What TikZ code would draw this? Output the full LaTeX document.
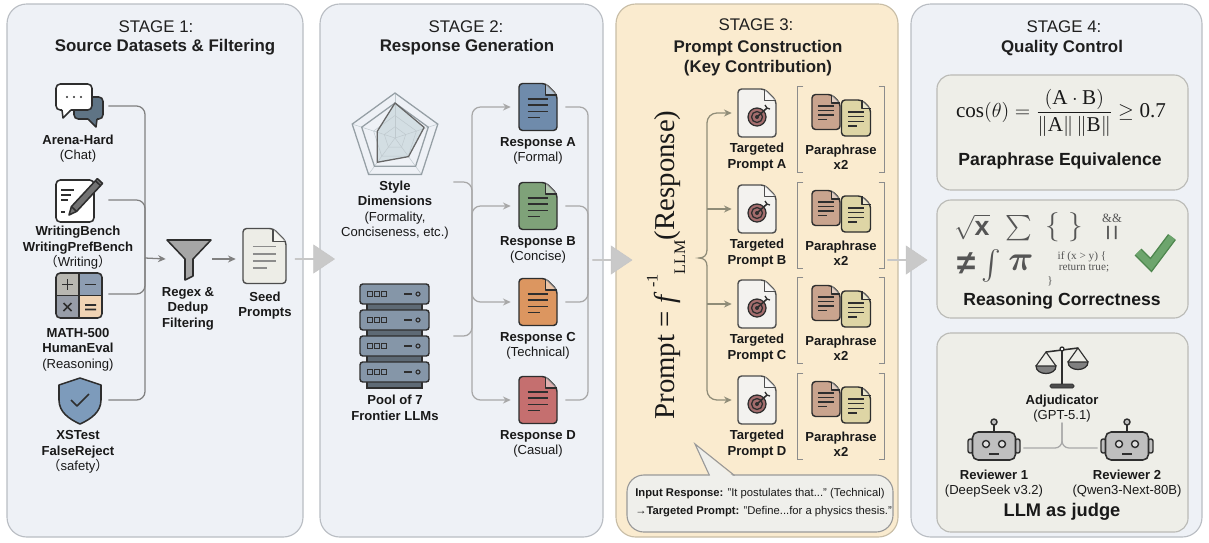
\documentclass[tikz,border=0pt]{standalone}
\usepackage{fontspec}
\setmainfont{Liberation Sans}
\newfontfamily\serifface{Liberation Serif}
\newfontfamily\cjkface{Noto Sans CJK SC}
\usepackage{amsmath}
\usepackage{amssymb}
\usetikzlibrary{arrows.meta,shapes.arrows}

\definecolor{panelfill}{HTML}{EEF1F6}
\definecolor{panelline}{HTML}{B9BDC3}
\definecolor{keyfill}{HTML}{FAEBCF}
\definecolor{keyline}{HTML}{C8BDA6}
\definecolor{qcfill}{HTML}{EEEEE8}
\definecolor{qcline}{HTML}{BABAB6}
\definecolor{iconline}{HTML}{2E2E2E}
\definecolor{conngray}{HTML}{808080}
\definecolor{connlight}{HTML}{A8A8A8}
\definecolor{connolive}{HTML}{8F8C78}
\definecolor{arrowgray}{HTML}{C9C9C9}
\definecolor{chatslate}{HTML}{5F7485}
\definecolor{shieldblue}{HTML}{7D9BBB}
\definecolor{respblue}{HTML}{6F8BAB}
\definecolor{respgreen}{HTML}{7FA279}
\definecolor{resporange}{HTML}{DC9660}
\definecolor{respred}{HTML}{C56F6F}
\definecolor{targetred}{HTML}{A46D6D}
\definecolor{tpfill}{HTML}{F3F2EF}
\definecolor{parabrown}{HTML}{C9A48E}
\definecolor{parakhaki}{HTML}{DED5A5}
\definecolor{serverblue}{HTML}{8596A8}
\definecolor{serverdark}{HTML}{5E6A75}
\definecolor{robotgray}{HTML}{BFBFBF}
\definecolor{symgray}{HTML}{555555}
\definecolor{checkgreen}{HTML}{6DA56D}
\definecolor{checkdark}{HTML}{4F874F}
\definecolor{radarfill}{HTML}{D3DEE3}
\definecolor{radarline}{HTML}{959FA5}
\definecolor{radargrid}{HTML}{BFC9CE}
\definecolor{seedfill}{HTML}{EDEDE7}
\definecolor{calloutfill}{HTML}{EFEFEB}

\newcommand\lblfont{\fontsize{9.3}{11}\selectfont}
\newcommand\ttlfont{\fontsize{12}{14.2}\selectfont}
\newcommand\qcfont{\fontsize{12.5}{15}\selectfont\bfseries}

\tikzset{
  panel/.style={draw=panelline, line width=0.8pt, fill=panelfill, rounded corners=14pt},
  keypanel/.style={panel, draw=keyline, fill=keyfill},
  qcbox/.style={draw=qcline, line width=0.8pt, fill=qcfill, rounded corners=10pt, minimum width=6.275cm, inner sep=0pt},
  bigarrow/.style={single arrow, fill=arrowgray, draw=black!22, line width=0.4pt, minimum height=0.98cm, minimum width=0.7cm, single arrow head extend=0.19cm, single arrow tip angle=68, inner sep=0pt},
  lbl/.style={font=\lblfont, align=center, inner sep=0pt, text=black!90},
  ttl/.style={font=\ttlfont, inner sep=0pt, text=black!88},
  icon/.style={inner sep=0pt, minimum width=1.45cm, minimum height=1.1cm},
  iconpen/.style={line width=1.1pt, draw=iconline, line join=round},
  conn1/.style={draw=conngray, line width=0.9pt, rounded corners=6pt},
  conn2/.style={draw=connlight, line width=0.9pt, rounded corners=6pt},
  conn3/.style={draw=connolive, line width=0.9pt, rounded corners=7pt},
  conn4/.style={draw=connlight, line width=0.9pt, rounded corners=5pt},
  headarrow/.style={-{Stealth[length=5.5pt,width=5pt]}},
  bracket/.style={draw=black!45, line width=0.9pt},
  pics/doc/.style n args={5}{code={
    \draw[line width=1pt, draw=#4, fill=#3, rounded corners=2.5pt, line join=round]
      (-#1/2,-#2/2) -- ({#1/2-#1*0.3},-#2/2) -- (#1/2,{-#2/2+#1*0.3}) -- (#1/2,#2/2) -- (-#1/2,#2/2) -- cycle;
    \draw[line width=1pt, draw=#4, fill=white, fill opacity=0.45, line join=round]
      ({#1/2-#1*0.3},-#2/2) -- ({#1/2-#1*0.3},{-#2/2+#1*0.3}) -- (#1/2,{-#2/2+#1*0.3});
    \foreach \lpos/\lend in {-0.17/0.27,-0.04/0.27,0.09/0.27,0.22/0.05}
      \draw[line width=1pt, draw=#5] ({-#1*0.27},{#2*\lpos}) -- ({#1*\lend},{#2*\lpos});
  }},
  pics/target/.style={code={
    \draw[line width=0.9pt, draw=iconline, fill=targetred] (0,0) circle[radius=9];
    \draw[line width=0.9pt, draw=iconline] (0,0) circle[radius=5.5];
    \fill[iconline] (0,0) circle[radius=2];
    \draw[line width=1.1pt, draw=iconline] (0,0) -- (10,-9);
    \draw[line width=0.9pt, draw=iconline] (8,-12) -- (10,-9) -- (13,-8);
  }},
  pics/robot/.style={code={
    \draw[line width=1pt, draw=iconline] (0,-14) -- (0,-21);
    \draw[line width=1pt, draw=iconline, fill=robotgray] (0,-24) circle[radius=3];
    \draw[line width=1pt, draw=iconline, fill=robotgray, rounded corners=1.5pt] (-26,-7) rectangle (-21,7);
    \draw[line width=1pt, draw=iconline, fill=robotgray, rounded corners=1.5pt] (21,-7) rectangle (26,7);
    \draw[line width=1.1pt, draw=iconline, fill=robotgray, rounded corners=4pt] (-21.5,-14) rectangle (21.5,14);
    \draw[line width=1pt, draw=iconline, fill=robotgray!50!white] (-8,-2) circle[radius=3.5];
    \draw[line width=1pt, draw=iconline, fill=robotgray!50!white] (8,-2) circle[radius=3.5];
    \draw[line width=1.1pt, draw=iconline] (-5,8) -- (5,8);
  }}
}

\begin{document}
\begin{tikzpicture}[x=0.025cm, y=-0.025cm]
\useasboundingbox (0,0) rectangle (1209,542);
\draw[panel] (7,4) rectangle (303,537);
\draw[panel] (320,4) rectangle (603,537);
\draw[keypanel] (616,4) rectangle (898,537);
\draw[panel] (911,4) rectangle (1202,537);
\node[bigarrow] (arrow12) at (314.5,259) {};
\node[bigarrow] (arrow23) at (612,260) {};
\node[bigarrow] (arrow34) at (907,260) {};

\node[ttl] (stage1) at (156,27) {STAGE 1:};
\node[ttl, font=\ttlfont\bfseries] (title1) at (165,47) {Source Datasets \& Filtering};
\node[ttl] (stage2) at (466,27) {STAGE 2:};
\node[ttl, font=\ttlfont\bfseries] (title2) at (467,47) {Response Generation};
\node[ttl] (stage3) at (756,25) {STAGE 3:};
\node[ttl, font=\ttlfont\bfseries, align=center] (title3) at (758,58) {Prompt Construction\\(Key Contribution)};
\node[ttl] (stage4) at (1064,27) {STAGE 4:};
\node[ttl, font=\ttlfont\bfseries] (title4) at (1062,48) {Quality Control};

\node[icon] (arena) at (79,106) {};
\draw[iconpen, fill=chatslate, rounded corners=3pt] (74,97) rectangle (103,119);
\fill[chatslate] (88,118) -- (96,127) -- (97,118) -- cycle;
\draw[iconpen] (88,119) -- (96,127) -- (97,119);
\draw[iconpen, fill=white, rounded corners=3pt] (56,84) rectangle (92,110);
\fill[white] (62,109) -- (63,118) -- (71,109) -- cycle;
\draw[iconpen] (62,110) -- (63,118) -- (71,110);
\foreach \dx in {67,74,81} \fill[iconline] (\dx,97) circle[radius=1.1];
\node[lbl] (arenalbl) at (78,148.5) {\textbf{Arena-Hard}\\(Chat)};

\node[icon] (writing) at (79,200) {};
\draw[iconpen, fill=white, rounded corners=3pt] (56,180) rectangle (94,222);
\draw[iconpen] (61,190) -- (74,190) (61,195) -- (71,195) (61,200) -- (68,200) (61,212) -- (65,212);
\draw[iconpen, fill=black!55] (69,215) -- (71.4,206.6) -- (97.4,178.6) -- (102.6,183.4) -- (76.6,211.4) -- cycle;
\draw[iconpen] (71.4,206.6) -- (76.6,211.4) (95.4,180.8) -- (100.6,185.6);
\node[lbl] (writinglbl) at (78,248) {\textbf{WritingBench}\\\textbf{WritingPrefBench}\\{\cjkface（}Writing{\cjkface）}};

\node[icon] (math) at (79,294) {};
\begin{scope}
\clip[rounded corners=3pt] (56,273) rectangle (102,318);
\fill[fill={rgb,255:red,184;green,183;blue,177}] (56,273) rectangle (79,295.5);
\fill[fill={rgb,255:red,141;green,157;blue,178}] (79,273) rectangle (102,295.5);
\fill[fill={rgb,255:red,151;green,157;blue,168}] (56,295.5) rectangle (79,318);
\fill[fill={rgb,255:red,241;green,212;blue,180}] (79,295.5) rectangle (102,318);
\end{scope}
\draw[iconpen, rounded corners=3pt] (56,273) rectangle (102,318);
\draw[iconpen] (79,273) -- (79,318) (56,295.5) -- (102,295.5);
\draw[iconpen] (62,284.5) -- (73,284.5) (67.5,279) -- (67.5,290) (85,284.5) -- (96,284.5);
\draw[iconpen] (63.5,303) -- (71.5,311) (63.5,311) -- (71.5,303) (85,305) -- (96,305) (85,309.5) -- (96,309.5);
\node[lbl] (mathlbl) at (78,349.5) {\textbf{MATH-500}\\\textbf{HumanEval}\\(Reasoning)};

\node[icon] (shield) at (79,400) {};
\draw[iconpen, fill=shieldblue] (59,385) -- (80,378) -- (101,385) -- (101,400) .. controls (101,412) and (91,419) .. (80,424) .. controls (69,419) and (59,412) .. (59,400) -- cycle;
\draw[iconpen] (71,400) -- (77,406) -- (89,394);
\node[lbl] (shieldlbl) at (78,452) {\textbf{XSTest}\\\textbf{FalseReject}\\{\cjkface（}safety{\cjkface）}};

\node[inner sep=0pt, minimum width=1.15cm, minimum height=1cm] (filter) at (189,259) {};
\draw[iconpen, fill=black!35] (167,240) -- (211,240) -- (193,259) -- (193,276) -- (185,280) -- (185,259) -- cycle;
\node[lbl, font=\lblfont\bfseries] (filterlbl) at (188,308.5) {Regex \&\\Dedup\\Filtering};
\node[inner sep=0pt, minimum width=1.425cm, minimum height=1.3cm] (seed) at (264.5,259) {};
\pic at (264.5,256) {doc={43}{55}{seedfill}{iconline!85}{black!45}};
\node[lbl, font=\lblfont\bfseries] (seedlbl) at (265,305.5) {Seed\\Prompts};

\coordinate (join) at (145,258);
\draw[conn1] (arena.east) -| (join);
\draw[conn1] (writing.east) -| (join);
\draw[conn1] (math.east) -| (join);
\draw[conn1] (shield.east) -| (join);
\draw[conn1, headarrow] (join) -- (filter.west);
\draw[conn1, headarrow] (filter.east) -- (seed.west);

\node[inner sep=0pt, minimum width=2.9cm, minimum height=1cm] (style) at (395,182) {};
\begin{scope}[shift={(395,138)}, yscale=-1]
\fill[radarfill] (90:35) -- (20:31) -- (-54:23) -- (-126:30) -- (160:19) -- cycle;
\foreach \rr in {0.25,0.5}
  \draw[radargrid, line width=0.35pt] (90:{45*\rr}) -- (18:{45*\rr}) -- (-54:{45*\rr}) -- (-126:{45*\rr}) -- (162:{45*\rr}) -- cycle;
\foreach \aa in {90,18,-54,-126,162}
  \draw[radargrid, line width=0.35pt] (0,0) -- (\aa:45);
\draw[radarline, line width=0.9pt] (90:45) -- (18:45) -- (-54:45) -- (-126:45) -- (162:45) -- cycle;
\draw[radarline, line width=0.9pt] (90:35) -- (18:35) -- (-54:35) -- (-126:35) -- (162:35) -- cycle;
\draw[draw=black!60, line width=0.9pt, line join=round] (90:35) -- (20:31) -- (-54:23) -- (-126:30) -- (160:19) -- cycle;
\end{scope}
\node[lbl] (stylelbl) at (395,210) {\textbf{Style}\\\textbf{Dimensions}\\(Formality,\\Conciseness, etc.)};

\node[inner sep=0pt, minimum width=2.9cm, minimum height=1cm] (pool) at (395,336) {};
\draw[fill=serverdark, draw=iconline, line width=0.9pt] (367,290) rectangle (422,388);
\foreach \ry in {284,310,336,362} {
  \draw[fill=serverblue, draw=iconline, line width=1pt, rounded corners=2pt] (360,\ry) rectangle (429,\ry+20);
  \foreach \qx in {367,374,381} \draw[draw=iconline, line width=0.7pt] (\qx,\ry+7.5) rectangle (\qx+5,\ry+12.5);
  \draw[iconline, line width=1pt] (404,\ry+10) -- (412,\ry+10);
  \draw[iconline, line width=0.8pt] (418,\ry+10) circle[radius=2];
}
\node[lbl, font=\lblfont\bfseries] (poollbl) at (395,408) {Pool of 7\\Frontier LLMs};

\coordinate (fan) at (472,258);
\coordinate (merge) at (588,258);
\draw[conn2] (style.east) -| (fan);
\draw[conn2] (pool.east) -| (fan);
\foreach \nm/\yy/\cl/\st in {A/107/respblue/Formal, B/206/respgreen/Concise, C/302/resporange/Technical, D/400/respred/Casual} {
  \node[inner sep=0pt, minimum width=1.35cm, minimum height=1.2cm] (resp\nm) at (538,\yy) {};
  \pic at (resp\nm) {doc={38}{47}{\cl}{iconline}{iconline}};
  \node[lbl] (resp\nm lbl) at (538,\yy+44) {\textbf{Response \nm}\\(\st)};
  \draw[conn2, headarrow] (fan) |- (resp\nm.west);
  \draw[conn2] (resp\nm.east) -| (merge);
}

\node[rotate=90, inner sep=0pt, text=black!90, font=\serifface\fontsize{20.5}{22}\selectfont] (inverse) at (666,265) {Prompt = \textit{f}\,\raisebox{0.6em}{\fontsize{11.5}{12}\selectfont -1}\raisebox{-0.35em}{\fontsize{11.5}{12}\selectfont LLM}(Response)};

\foreach \nm/\yy in {A/113, B/209, C/304, D/400} {
  \node[inner sep=0pt, minimum width=1.25cm, minimum height=1.2cm] (tp\nm) at (757,\yy) {};
  \pic at (tp\nm) {doc={38}{48}{tpfill}{iconline!85}{none}};
  \pic at (757,\yy+4) {target};
  \node[lbl, font=\lblfont\bfseries] (tp\nm lbl) at (757,\yy+44) {Targeted\\Prompt \nm};
  \node[inner sep=0pt, minimum width=2.15cm, minimum height=2.125cm] (para\nm) at (841,\yy+16.5) {};
  \draw[bracket] ([xshift=4pt]para\nm.north west) -- (para\nm.north west) -- (para\nm.south west) -- ([xshift=4pt]para\nm.south west);
  \draw[bracket] ([xshift=-4pt]para\nm.north east) -- (para\nm.north east) -- (para\nm.south east) -- ([xshift=-4pt]para\nm.south east);
  \pic at (826,\yy-1) {doc={28}{35}{parabrown}{iconline}{iconline}};
  \pic at (856,\yy+5) {doc={29}{36}{parakhaki}{iconline}{iconline}};
  \node[lbl, font=\lblfont\bfseries] (para\nm lbl) at (841,\yy+44) {Paraphrase\\x2};
}
\coordinate (brcTop) at (707,250);
\coordinate (brcBot) at (707,266);
\draw[conn3, headarrow] (brcTop) |- (tpA.west);
\draw[conn3, headarrow] (brcBot) |- (tpD.west);
\draw[conn3, headarrow] (brcTop |- tpB.west) -- (tpB.west);
\draw[conn3, headarrow] (brcTop |- tpC.west) -- (tpC.west);
\draw[draw=connolive, line width=0.9pt] (brcTop) .. controls (707,255) and (704,258) .. (699,258) .. controls (704,258) and (707,261) .. (brcBot);

\draw[draw=black!40, fill=calloutfill, line width=0.8pt, rounded corners=12pt] (627,475) rectangle (893,532);
\fill[calloutfill] (710,477) -- (695,444) -- (734,477) -- cycle;
\draw[draw=black!40, line width=0.8pt] (709.5,475.5) -- (695,444) -- (734.5,475.5);
\node[anchor=west, align=left, inner sep=0pt, text=black!90, font=\fontsize{8}{12.8}\selectfont] (example) at (635,503) {\textbf{Input Response:} "It postulates that..." (Technical)\\→\textbf{Targeted Prompt:} "Define...for a physics thesis."};

\node[qcbox, minimum height=2.875cm] (qc1) at (1062.5,132.5) {};
\node[qcbox, minimum height=2.95cm] (qc2) at (1062.5,259) {};
\node[qcbox, minimum height=4.975cm] (qc3) at (1062.5,432.5) {};

\node[inner sep=0pt, text=black!90, font=\serifface\fontsize{15}{18}\selectfont] (cosine) at (1061,113) {$\displaystyle\text{cos}(\theta) = \frac{(\text{A}\cdot\text{B})}{\|\text{A}\|\,\|\text{B}\|} \geq \text{0.7}$};
\node[inner sep=0pt, font=\qcfont, text=black!90] (equiv) at (1060,161) {Paraphrase Equivalence};

\node[inner sep=0pt, text=symgray, font=\fontsize{19}{19}\selectfont] (sqrtx) at (972,227) {$\sqrt{\textbf{x}}$};
\node[inner sep=0pt, text=symgray, font=\fontsize{18}{18}\selectfont] (sumsym) at (1019,228) {$\sum$};
\node[inner sep=0pt, text=symgray, font=\fontsize{22}{22}\selectfont] (braces) at (1064,227) {$\{\;\}$};
\node[inner sep=0pt, text=symgray, font=\serifface\fontsize{9}{9}\selectfont] (andand) at (1112,218) {\&\&};
\node[inner sep=0pt, text=symgray, font=\fontsize{10}{10}\selectfont\bfseries] (oror) at (1112,233) {| |};
\node[inner sep=0pt, text=symgray, font=\fontsize{24}{24}\selectfont\bfseries] (neq) at (966,264) {≠};
\node[inner sep=0pt, text=symgray, font=\fontsize{21}{21}\selectfont] (integral) at (991,266) {$\int$};
\node[inner sep=0pt, text=symgray, font=\fontsize{26}{26}\selectfont] (pisym) at (1021,263) {$\boldsymbol{\pi}$};
\node[inner sep=0pt, text=symgray, font=\serifface\fontsize{8}{8}\selectfont] (code1) at (1082,257) {if (x > y) \{};
\node[inner sep=0pt, text=symgray, font=\serifface\fontsize{8}{8}\selectfont] (code2) at (1084,268) {return true;};
\node[inner sep=0pt, text=symgray, font=\serifface\fontsize{8}{8}\selectfont] (code3) at (1050,281) {\}};
\draw[line width=7pt, draw=checkdark] (1138,252) -- (1151,265) -- (1172,237);
\draw[line width=5pt, draw=checkgreen] (1138,252) -- (1151,265) -- (1172,237);
\node[inner sep=0pt, font=\qcfont, text=black!90] (reason) at (1062,301) {Reasoning Correctness};

\draw[line width=1.1pt, draw=iconline] (1062,350) -- (1062,384);
\draw[draw=iconline, fill=black!70, rounded corners=1pt] (1050,384) rectangle (1074,388);
\draw[line width=1.1pt, draw=iconline] (1046,352) -- (1078,348);
\draw[line width=0.8pt, draw=iconline] (1036,366) -- (1046,352) -- (1056,366) (1068,362) -- (1078,348) -- (1088,362);
\draw[line width=0.9pt, draw=iconline, fill=black!50] (1036,366) .. controls (1036,376) and (1056,376) .. (1056,366) -- cycle;
\draw[line width=0.9pt, draw=iconline, fill=black!50] (1068,362) .. controls (1068,372) and (1088,372) .. (1088,362) -- cycle;
\draw[line width=0.9pt, draw=iconline, fill=white] (1062,349) circle[radius=2];
\node[lbl] (adj) at (1062,408.5) {\textbf{Adjudicator}\\(GPT-5.1)};

\node[inner sep=0pt, minimum width=1.45cm, minimum height=1.1cm] (rev1) at (994,448) {};
\pic at (994,446) {robot};
\node[inner sep=0pt, minimum width=1.45cm, minimum height=1.1cm] (rev2) at (1127,448) {};
\pic at (1127,446) {robot};
\draw[conn4] (rev1.east) -| (adj.south);
\draw[conn4] (rev2.west) -| (adj.south);
\node[lbl] (rev1lbl) at (994,483.5) {\textbf{Reviewer 1}\\(DeepSeek v3.2)};
\node[lbl] (rev2lbl) at (1127,483.5) {\textbf{Reviewer 2}\\(Qwen3-Next-80B)};
\node[inner sep=0pt, text=black!90, font=\fontsize{13}{15}\selectfont\bfseries] (judge) at (1062,512) {LLM as judge};
\end{tikzpicture}
\end{document}
